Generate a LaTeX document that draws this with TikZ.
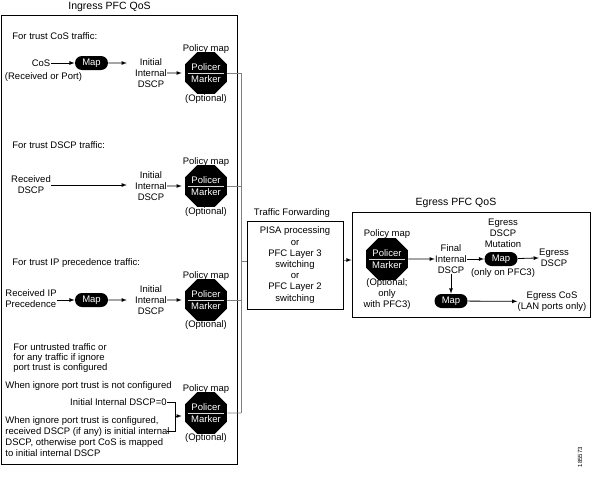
\documentclass[tikz,border=0pt]{standalone}
\usepackage{fontspec}
\setmainfont{Liberation Sans}
\usetikzlibrary{shapes.geometric, shapes.misc, arrows}
\tikzstyle{txt} = [inner sep=0pt, align=center]
\tikzstyle{ltxt} = [inner sep=0pt, align=left]
\tikzstyle{title} = [inner sep=0pt, font=\fontsize{10.5}{12}\selectfont]
\tikzstyle{fmap} = [rounded rectangle, fill=black, text=white, minimum width=33pt, minimum height=14pt, inner sep=0pt]
\tikzstyle{foctagon} = [regular polygon, regular polygon sides=8, fill=black, text=white, minimum size=38pt, inner sep=0pt, align=center, font=\fontsize{9.5}{12}\selectfont]
\tikzstyle{fbox} = [rectangle, draw=black, line width=1pt, inner sep=0pt]
\tikzstyle{bus} = [draw=black!50, line width=0.8pt]
\tikzstyle{bar} = [draw=white!85!black, line width=0.6pt, shorten <=3pt, shorten >=3pt]

\begin{document}
\begin{tikzpicture}[x=1pt, y=-1pt, line width=0.8pt, font=\fontsize{9.5}{11.2}\selectfont]
    \useasboundingbox (0,0) rectangle (594,490);

    % ingress
    \node[fbox, minimum width=236pt, minimum height=449pt] (ingress) at (119,239.5) {};
    \node[title] (ingresstitle) at (109.5,7) {Ingress PFC QoS};

    \node[ltxt, anchor=west] (trustcos) at (12,36) {For trust CoS traffic:};
    \node[txt] (cos) at (41,63) {CoS};
    \node[txt] (recvport) at (43.5,77) {(Received or Port)};
    \node[fmap] (map1) at (91.5,63) {Map};
    \node[txt] (init1) at (151,73) {Initial\\Internal\\DSCP};
    \node[foctagon] (pol1) at (206,73) {Policer\\Marker};
    \node[txt, above of=pol1, node distance=24pt] (pm1) {Policy map};
    \node[txt, below of=pol1, node distance=26pt] (opt1) {(Optional)};

    \node[ltxt, anchor=west] (trustdscp) at (12,145) {For trust DSCP traffic:};
    \node[txt] (rdscp) at (31,185) {Received\\DSCP};
    \node[txt] (init2) at (151,186) {Initial\\Internal\\DSCP};
    \node[foctagon] (pol2) at (206,186) {Policer\\Marker};
    \node[txt, above of=pol2, node distance=24pt] (pm2) {Policy map};
    \node[txt, below of=pol2, node distance=26pt] (opt2) {(Optional)};

    \node[ltxt, anchor=west] (trustip) at (12,263) {For trust IP precedence traffic:};
    \node[ltxt, anchor=west] (recip) at (5,298.5) {Received IP\\Precedence};
    \node[fmap] (map3) at (91.5,300) {Map};
    \node[txt] (init3) at (151,300) {Initial\\Internal\\DSCP};
    \node[foctagon] (pol3) at (206,300) {Policer\\Marker};
    \node[txt, above of=pol3, node distance=24pt] (pm3) {Policy map};
    \node[txt, below of=pol3, node distance=25pt] (opt3) {(Optional)};

    \node[ltxt, anchor=west, font=\fontsize{9.5}{10}\selectfont] (untrusted) at (13,358) {For untrusted traffic or\\for any traffic if ignore\\port trust is configured};
    \node[ltxt, anchor=west] (notcfg) at (5,386) {When ignore port trust is not configured};
    \node[ltxt, anchor=east] (dscpzero) at (167,402) {Initial Internal DSCP=0};
    \node[ltxt, anchor=west, font=\fontsize{9.5}{11}\selectfont] (ignorecfg) at (5,436.5) {When ignore port trust is configured,\\received DSCP (if any) is initial internal\\DSCP, otherwise port CoS is mapped\\to initial internal DSCP};
    \node[foctagon] (pol4) at (206,413) {Policer\\Marker};
    \node[txt, above of=pol4, node distance=24pt] (pm4) {Policy map};
    \node[txt, below of=pol4, node distance=25pt] (opt4) {(Optional)};
    \coordinate (brtop) at (175,402);
    \coordinate (brbot) at (175,431);
    \coordinate (brmid) at (175,416);
    \coordinate (intend) at (167,431);

    % forwarding
    \coordinate (busend) at (241,413);
    \node[fbox, minimum width=96pt, minimum height=88pt, align=center] (tf) at (295,265) {PISA processing\\or\\PFC Layer 3\\switching\\or\\PFC Layer 2\\switching};
    \node[txt] (tftitle) at (292,213) {Traffic Forwarding};

    % egress
    \node[fbox, minimum width=238pt, minimum height=105pt] (egress) at (471,264.5) {};
    \node[title] (egresstitle) at (456,203) {Egress PFC QoS};
    \node[foctagon] (pol5) at (387,259) {Policer\\Marker};
    \node[txt, above of=pol5, node distance=25pt] (pm5) {Policy map};
    \node[txt, font=\fontsize{9.5}{11}\selectfont] (opt5) at (387,294) {(Optional;\\only\\with PFC3)};
    \node[txt] (final) at (451,259) {Final\\Internal\\DSCP};
    \node[fmap] (map5) at (501,259) {Map};
    \node[txt, font=\fontsize{9.5}{11}\selectfont] (mut) at (503,233) {Egress\\DSCP\\Mutation};
    \node[txt] (onlypfc) at (503,273) {(only on PFC3)};
    \node[txt] (edscp) at (554,257.5) {Egress\\DSCP};
    \node[fmap] (map6) at (451,301) {Map};
    \node[txt] (ecos) at (552,301.5) {Egress CoS\\(LAN ports only)};
    \node[txt, rotate=90, font=\fontsize{6}{7}\selectfont] (figid) at (580,457) {185573};

    % white bars in octagons
    \foreach \p in {pol1,pol2,pol3,pol4,pol5}
        \draw[bar] (\p.west) -- (\p.east);

    \draw[->,>=latex] (cos) -- (map1);
    \draw[->,>=latex, shorten >=8pt] (map1) -- (init1.west |- map1);
    \draw[->,>=latex, shorten >=3pt] (init1) -- (pol1);
    \draw[->,>=latex, shorten >=8pt] (rdscp.east) -- (rdscp.east -| init2.west);
    \draw[->,>=latex, shorten >=3pt] (init2) -- (pol2);
    \draw[->,>=latex] (recip.east |- map3) -- (map3);
    \draw[->,>=latex, shorten >=8pt] (map3) -- (init3.west |- map3);
    \draw[->,>=latex, shorten >=3pt] (init3) -- (pol3);
    \draw[-] (dscpzero.east) -- (brtop) -- (brbot) -- (intend);
    \draw[->,>=latex, shorten >=3pt] (brmid) -- (pol4.west |- brmid);

    \draw[bus] (pol1.east) -| (busend);
    \draw[bus] (pol2.east) -- (pol2.east -| busend);
    \draw[bus] (pol3.east) -- (pol3.east -| busend);
    \draw[bus] (pol4.east) -- (busend);
    \draw[bus] ([yshift=4pt]tf.west -| busend) -- ([yshift=4pt]tf.west);
    \draw[bus, -{latex[black]}] ([yshift=5pt]tf.east) -- ([yshift=5pt]tf.east -| egress.west);

    \draw[->,>=latex] (pol5) -- (final);
    \draw[->,>=latex] (final) -- (map5);
    \draw[->,>=latex] (map5) -- (edscp);
    \draw[->,>=latex] (final) -- (map6);
    \draw[->,>=latex] (map6) -- (ecos);
\end{tikzpicture}
\end{document}
